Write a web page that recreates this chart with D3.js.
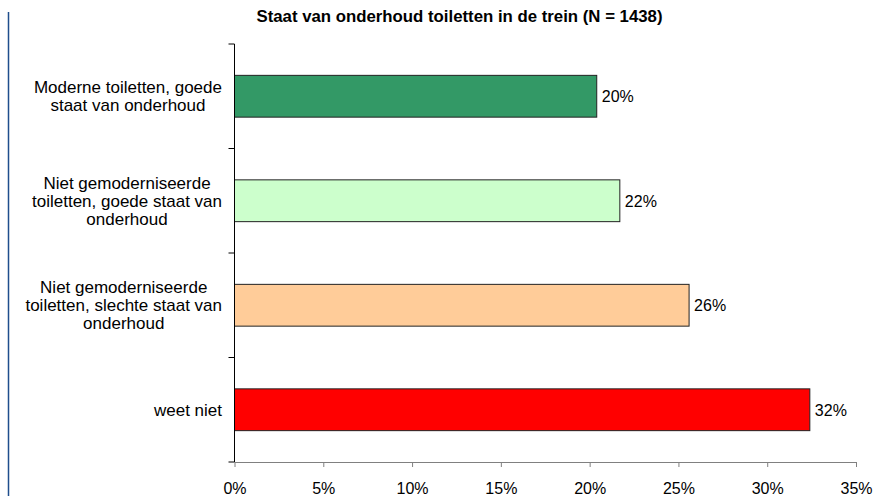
<!DOCTYPE html>
<html>
<head>
<meta charset="utf-8">
<script src="https://cdn.jsdelivr.net/npm/d3@7"></script>
<style>
  body { margin: 0; background: #fff; }
  svg text { font-family: "Liberation Sans", Arial, sans-serif; fill: #000; }
</style>
</head>
<body>
<svg id="chart" width="895" height="496"></svg>
<script>
const categories = [
  ["Moderne toiletten, goede", "staat van onderhoud"],
  ["Niet gemoderniseerde", "toiletten, goede staat van", "onderhoud"],
  ["Niet gemoderniseerde", "toiletten, slechte staat van", "onderhoud"],
  ["weet niet"]
];
const values = [20.4, 21.7, 25.6, 32.4];
const valueLabels = ["20%", "22%", "26%", "32%"];
const colors = ["#339966", "#CCFFCC", "#FFCC99", "#FF0000"];
const xTicks = [0, 5, 10, 15, 20, 25, 30, 35];
const title = "Staat van onderhoud toiletten in de trein (N = 1438)";

const svg = d3.select("#chart");

const plotLeft = 234.5, plotRight = 856, plotTop = 44, plotBottom = 462;

const x = d3.scaleLinear().domain([0, 35]).range([plotLeft, plotRight]);
const y = d3.scaleBand()
  .domain(d3.range(categories.length))
  .range([plotTop, plotBottom])
  .paddingInner(0.6)
  .paddingOuter(0.3);

// blue line at the left edge
svg.append("line")
  .attr("x1", 8.5).attr("x2", 8.5)
  .attr("y1", 12).attr("y2", 496)
  .attr("stroke", "#1F4E8C")
  .attr("stroke-width", 1.5);

// title
svg.append("text")
  .attr("x", 459.5).attr("y", 22)
  .attr("text-anchor", "middle")
  .style("font-size", "16.8px")
  .style("font-weight", "bold")
  .text(title);

// bars
svg.selectAll(".bar")
  .data(values)
  .join("rect")
    .attr("class", "bar")
    .attr("x", x(0))
    .attr("y", (d, i) => y(i))
    .attr("width", d => x(d) - x(0))
    .attr("height", y.bandwidth())
    .attr("fill", (d, i) => colors[i])
    .attr("stroke", "#222")
    .attr("stroke-width", 1);

// value labels
svg.selectAll(".val")
  .data(values)
  .join("text")
    .attr("class", "val")
    .attr("x", d => x(d) + 5)
    .attr("y", (d, i) => y(i) + y.bandwidth() / 2 + 0.5)
    .attr("dy", "0.35em")
    .style("font-size", "16px")
    .text((d, i) => valueLabels[i]);

// x axis
const xAxis = svg.append("g")
  .attr("transform", `translate(0,${plotBottom})`)
  .call(d3.axisBottom(x).tickValues(xTicks).tickSize(5).tickSizeOuter(0).tickFormat(d => d + "%"));
xAxis.select(".domain").attr("stroke", "#808080");
xAxis.selectAll(".tick line").attr("stroke", "#808080");
xAxis.selectAll(".tick text")
  .attr("y", 26.5)
  .attr("dy", "0.35em")
  .style("font-size", "16px")
  .attr("fill", "#000");

// y axis line with ticks between categories
const yTicks = d3.range(categories.length + 1).map(i => plotTop + i * (plotBottom - plotTop) / categories.length);
svg.append("line")
  .attr("x1", plotLeft).attr("x2", plotLeft)
  .attr("y1", plotTop).attr("y2", plotBottom)
  .attr("stroke", "#000");
svg.selectAll(".ytick")
  .data(yTicks)
  .join("line")
    .attr("class", "ytick")
    .attr("x1", plotLeft - 6).attr("x2", plotLeft)
    .attr("y1", d => d).attr("y2", d => d)
    .attr("stroke", "#000");

// category labels, centred blocks right-aligned to the axis
const lineH = 18;
const labelRight = 222;
categories.forEach((lines, i) => {
  const cy = y(i) + y.bandwidth() / 2;
  const t = svg.append("text").style("font-size", "17px").attr("text-anchor", "middle");
  lines.forEach((s, j) => {
    t.append("tspan")
      .attr("y", cy + (j - (lines.length - 1) / 2) * lineH)
      .attr("dy", "0.35em")
      .text(s);
  });
  const maxW = d3.max(t.selectAll("tspan").nodes(), n => n.getComputedTextLength());
  t.selectAll("tspan").attr("x", labelRight - maxW / 2);
});
</script>
</body>
</html>
